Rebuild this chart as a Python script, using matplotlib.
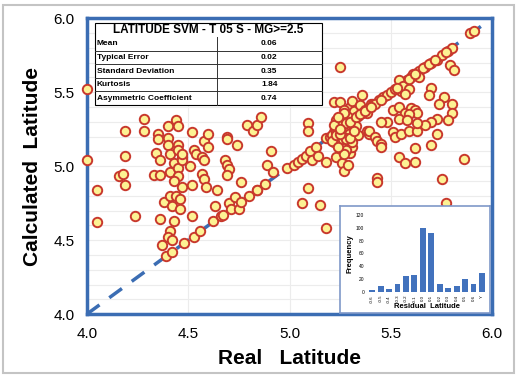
import numpy as np
import matplotlib
matplotlib.use("Agg")
import matplotlib.pyplot as plt
from matplotlib.patches import Rectangle

plt.rcParams['font.family'] = ['Liberation Sans', 'DejaVu Sans']

# scatter data (real, calculated)
real = [4.00, 4.00, 4.05, 4.05, 4.24, 4.16, 4.18, 4.19, 4.19, 4.19,
        4.28, 4.28, 4.35, 4.35, 4.34, 4.36, 4.33, 4.36, 4.36, 4.38, 4.37,
        4.40, 4.40, 4.40, 4.41, 4.41, 4.41, 4.42, 4.41, 4.40, 4.42, 4.39, 4.42, 4.43,
        4.44, 4.45, 4.45, 4.45, 4.47, 4.43, 4.45, 4.45, 4.43, 4.47, 4.44, 4.46, 4.46, 4.47, 4.47,
        4.52, 4.51, 4.52, 4.52, 4.48, 4.53, 4.56, 4.53, 4.54,
        4.58, 4.60, 4.60, 4.57, 4.58, 4.57, 4.58, 4.59, 4.64, 4.63, 4.62, 4.66, 4.67,
        4.69, 4.69, 4.68, 4.69, 4.70, 4.69, 4.74,
        4.70, 4.71, 4.73, 4.75, 4.76, 4.76,
        4.79, 4.82, 4.84, 4.86,
        4.80, 4.84, 4.84, 4.88,
        4.91, 4.89, 4.92,
        4.99, 5.02, 5.04, 5.06, 5.08, 5.10, 5.13, 5.11, 5.14,
        5.09, 5.09, 5.09, 5.06, 5.15, 5.18,
        5.18, 5.18, 5.21, 5.22, 5.25,
        5.23, 5.26, 5.27, 5.29, 5.30, 5.25, 5.27, 5.28, 5.30, 5.31, 5.32, 5.22, 5.24, 5.25,
        5.27, 5.27, 5.29, 5.31, 5.30, 5.31, 5.25, 5.27, 5.32, 5.35, 5.36, 5.38, 5.37, 5.34,
        5.38, 5.39, 5.23, 5.26, 5.22, 5.29, 5.31, 5.28, 5.27,
        5.20, 5.21, 5.23, 5.24, 5.26, 5.28, 5.30, 5.32, 5.34, 5.36,
        5.21, 5.23, 5.24, 5.26, 5.28, 5.29, 5.31, 5.33, 5.22, 5.25, 5.27, 5.30, 5.32, 5.24, 5.28,
        5.40, 5.41, 5.44, 5.46, 5.48, 5.50, 5.54, 5.55, 5.57, 5.58, 5.60, 5.61, 5.63, 5.64,
        5.67, 5.70, 5.73, 5.75, 5.78, 5.80, 5.54, 5.56, 5.59, 5.64, 5.57,
        5.42, 5.45, 5.52, 5.53, 5.59, 5.62, 5.66, 5.69, 5.72, 5.77,
        5.79, 5.81, 5.70, 5.69, 5.76, 5.74, 5.80, 5.80, 5.78, 5.73, 5.70, 5.67, 5.73, 5.70,
        5.86, 5.75, 5.77, 5.89, 5.91,
        5.51, 5.54, 5.57, 5.60, 5.62, 5.63, 5.59, 5.54, 5.58, 5.48, 5.45, 5.51, 5.52, 5.55,
        5.59, 5.63, 5.63, 5.39, 5.42, 5.43, 5.45, 5.45, 5.54, 5.57, 5.62, 5.62, 5.43, 5.43,
        5.25, 5.30, 5.33, 5.35, 5.37, 5.40]
calc = [5.52, 5.04, 4.84, 4.62, 4.66, 4.93, 4.95, 4.87, 5.07, 5.24,
        5.32, 5.24, 5.22, 5.18, 5.09, 5.04, 4.94, 4.94, 4.64, 4.76, 4.47,
        5.27, 5.19, 5.14, 5.08, 4.96, 4.80, 4.73, 4.56, 4.52, 4.50, 4.39, 4.42, 4.63,
        5.31, 5.27, 5.14, 5.11, 5.06, 5.02, 4.99, 4.93, 4.90, 4.86, 4.80, 4.78, 4.71, 5.04, 5.08,
        5.23, 5.00, 4.87, 4.66, 4.48, 4.52, 4.56, 5.11, 5.08,
        5.17, 5.22, 5.13, 5.06, 5.04, 4.95, 4.91, 4.86, 4.84, 4.73, 4.63, 4.66, 4.67,
        5.20, 5.18, 5.04, 5.01, 4.98, 4.94, 5.14,
        4.75, 4.71, 4.79, 4.71, 4.76, 4.89,
        5.28, 5.24, 5.28, 5.33,
        4.80, 4.84, 4.84, 4.88,
        5.10, 5.01, 4.96,
        4.99, 5.01, 5.03, 5.05, 5.07, 5.10, 5.13, 5.04, 5.07,
        5.29, 5.24, 4.85, 4.75, 4.74, 4.58,
        5.03, 5.19, 5.19, 5.43, 5.67,
        5.06, 5.02, 4.97, 5.01, 5.09, 5.15, 5.14, 5.20, 5.23, 5.20, 5.25, 5.23, 5.26, 5.28,
        5.26, 5.33, 5.34, 5.31, 5.40, 5.44, 5.43, 5.38, 5.37, 5.41, 5.48, 5.36, 5.38, 5.21,
        5.24, 5.22, 5.31, 5.18, 5.16, 5.25, 5.13, 5.11, 5.08,
        5.20, 5.21, 5.23, 5.24, 5.26, 5.28, 5.30, 5.32, 5.34, 5.36,
        5.17, 5.21, 5.13, 5.30, 5.18, 5.33, 5.16, 5.27, 5.28, 5.22, 5.36, 5.19, 5.24, 5.33, 5.29,
        5.42, 5.42, 5.45, 5.47, 5.48, 5.50, 5.53, 5.51, 5.56, 5.58, 5.60, 5.62, 5.63, 5.64,
        5.67, 5.70, 5.72, 5.75, 5.78, 5.80, 5.58, 5.54, 5.52, 5.60, 5.49,
        5.42, 5.45, 5.52, 5.53, 5.59, 5.62, 5.66, 5.69, 5.72, 5.77,
        5.68, 5.65, 5.53, 5.48, 5.47, 5.42, 5.42, 5.36, 5.31, 5.32, 5.30, 5.28, 5.22, 5.14,
        5.05, 4.91, 4.75, 5.90, 5.91,
        5.38, 5.40, 5.36, 5.39, 5.38, 5.36, 5.35, 5.32, 5.31, 5.30, 5.30, 5.23, 5.20, 5.22,
        5.24, 5.24, 5.29, 5.24, 5.20, 5.17, 5.15, 5.13, 5.06, 5.02, 5.12, 5.03, 4.92, 4.89,
        5.25, 5.30, 5.33, 5.35, 5.37, 5.40]

# statistics table
stat_names = ["Mean", "Typical Error", "Standard Deviation", "Kurtosis", "Asymmetric Coefficient"]
stat_values = ["0.06", "0.02", "0.35", "1.84", "0.74"]
table_title = "LATITUDE SVM - T 05 S - MG>=2.5"

# residual histogram
bins = ["-0.6", "-0.5", "-0.4", "-0.3", "-0.2", "-0.1", "0.0", "0.1", "0.2", "0.3",
        "0.4", "0.5", "0.6", "Y"]
freq = [4, 9, 5, 13, 25, 27, 100, 91, 13, 7, 10, 20, 13, 30]

blue = "#3b6db3"

fig = plt.figure(figsize=(5.17, 3.78), dpi=100)
fig.patches.append(Rectangle((0.006, 0.012), 0.988, 0.975, transform=fig.transFigure,
                             fill=False, edgecolor="#c4c4c4", linewidth=1.5))

ax = fig.add_axes([0.168, 0.169, 0.784, 0.783])
ax.set_xlim(4.0, 6.0)
ax.set_ylim(4.0, 6.0)
ax.set_xticks(np.arange(4.0, 6.01, 0.5))
ax.set_yticks(np.arange(4.0, 6.01, 0.5))
ax.set_yticks(np.arange(4.0, 6.01, 0.1), minor=True)
ax.grid(True, which="major", axis="x", color="#ececec", linewidth=0.8)
ax.grid(True, which="both", axis="y", color="#ececec", linewidth=0.8)
ax.tick_params(which="both", length=0, labelsize=11, pad=9)
ax.xaxis.set_major_formatter(matplotlib.ticker.FormatStrFormatter("%.1f"))
ax.yaxis.set_major_formatter(matplotlib.ticker.FormatStrFormatter("%.1f"))
for s in ax.spines.values():
    s.set_color(blue)
    s.set_linewidth(2.5)
ax.set_axisbelow(True)

ax.plot([4.0, 6.0], [4.0, 6.0], color=blue, linewidth=2.5, linestyle=(0, (4.5, 3.5)), zorder=2)
ax.scatter(real, calc, s=46, facecolor="#fdf293", edgecolor="#c8382c", linewidth=1.4, zorder=3,
           clip_on=False)

ax.set_xlabel("Real   Latitude", fontsize=15, fontweight="bold", labelpad=6)
ax.set_ylabel("Calculated  Latitude", fontsize=15, fontweight="bold", labelpad=8)

# table
tx0, tx1, tmid = 0.02, 0.58, 0.32
ty_top, ty_bot = 0.983, 0.706
row_h = (ty_top - ty_bot) / 6
ax.add_patch(Rectangle((tx0, ty_bot), tx1 - tx0, ty_top - ty_bot, transform=ax.transAxes,
                       facecolor="white", edgecolor="black", linewidth=0.8, zorder=5))
ax.text((tx0 + tx1) / 2, ty_top - row_h / 2, table_title, transform=ax.transAxes,
        ha="center", va="center", fontsize=8.5, fontweight="bold", zorder=6)
ax.plot([tmid, tmid], [ty_bot, ty_top - row_h], transform=ax.transAxes, color="#333333",
        linewidth=0.7, zorder=6)
for i, (name, val) in enumerate(zip(stat_names, stat_values)):
    yc = ty_top - row_h * (i + 1.5)
    if i < len(stat_names) - 1:
        yl = ty_top - row_h * (i + 2)
        ax.plot([tx0, tx1], [yl, yl], transform=ax.transAxes, color="#333333",
                linewidth=0.7, zorder=6)
    ax.text(tx0 + 0.005, yc, name, transform=ax.transAxes, ha="left", va="center",
            fontsize=6, fontweight="bold", zorder=6)
    ax.text((tmid + tx1) / 2, yc, val, transform=ax.transAxes, ha="center", va="center",
            fontsize=6, fontweight="bold", zorder=6)

# inset histogram
frame = fig.add_axes([0.658, 0.172, 0.29, 0.283])
frame.set_xticks([])
frame.set_yticks([])
frame.set_facecolor("white")
for s in frame.spines.values():
    s.set_color("#7f98c8")
    s.set_linewidth(1.2)
frame.set_zorder(10)

hax = fig.add_axes([0.71, 0.227, 0.232, 0.205])
hax.set_zorder(11)
hax.bar(np.arange(len(freq)), freq, width=0.7, color="#4272bd")
hax.set_xlim(-0.6, len(freq) - 0.4)
hax.set_ylim(0, 120)
hax.set_yticks(np.arange(0, 121, 20))
hax.set_xticks(np.arange(len(freq)))
hax.set_xticklabels(bins, rotation=90, fontsize=3.2)
hax.tick_params(axis="y", labelsize=3.5, length=0, pad=2)
hax.tick_params(axis="x", length=0, pad=2)
for s in hax.spines.values():
    s.set_visible(False)
hax.patch.set_alpha(0)
hax.set_ylabel("Frequency", fontsize=5.5, fontweight="bold", labelpad=2)
hax.set_xlabel("Residual  Latitude", fontsize=5.5, fontweight="bold", labelpad=0)

fig.savefig("out.png", dpi=100)
